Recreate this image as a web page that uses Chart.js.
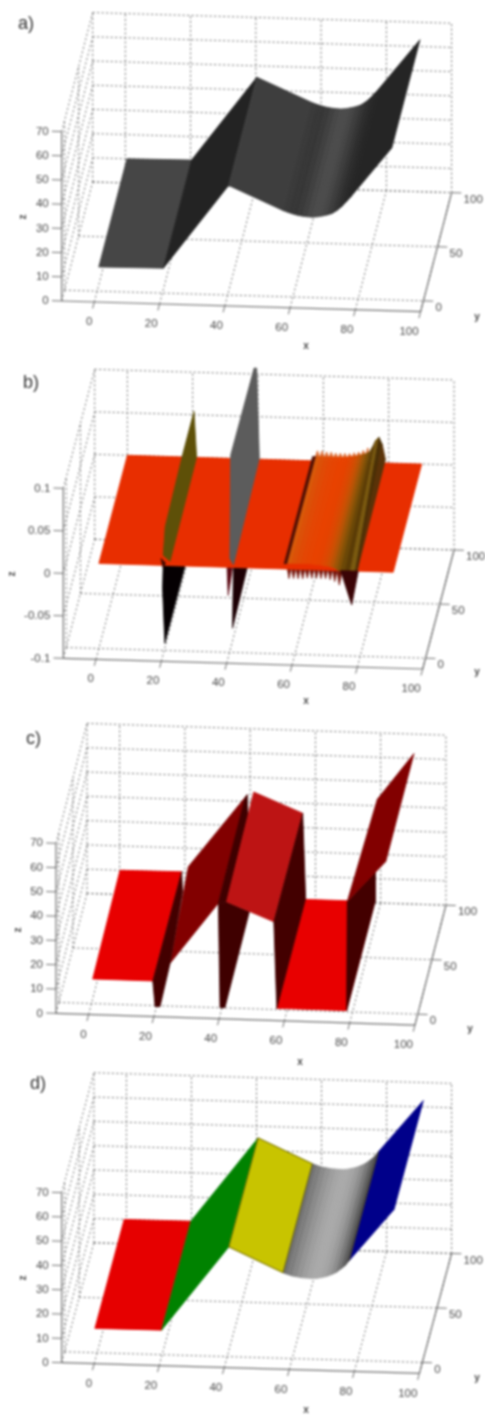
<!DOCTYPE html>
<html>
<head>
<meta charset="utf-8">
<script src="https://cdn.jsdelivr.net/npm/chart.js@4/dist/chart.umd.min.js"></script>
<style>
    html, body { margin: 0; padding: 0; background: #fff; }
    #page { position: relative; width: 485px; height: 1416px; overflow: hidden; }
    canvas { position: absolute; left: 0; filter: blur(0.8px); }
</style>
</head>
<body>
<div id="page">
    <canvas id="panelA" width="485" height="355" style="top:0"></canvas>
    <canvas id="panelB" width="485" height="360" style="top:355px"></canvas>
    <canvas id="panelC" width="485" height="350" style="top:715px"></canvas>
    <canvas id="panelD" width="485" height="351" style="top:1065px"></canvas>
</div>
<script>
// Axis ticks
const xTicks = [0, 20, 40, 60, 80, 100];
const yTicks = [0, 50, 100];
const zTicks = [0, 10, 20, 30, 40, 50, 60, 70];
const zTicksB = [-0.1, -0.05, 0, 0.05, 0.1];

// a) surface profile, x against z, extruded from y=0 to y=100
const profileX = [0.5, 20.3, 40.3, 57, 58.5, 60, 61.5, 63, 64.5, 66, 67.5, 69, 70.5, 72, 73.5, 75, 76.5, 77.7, 90.3];
const profileZ = [10, 10.3, 45.3, 35.6, 34.9, 34.3, 33.8, 33.5, 33.3, 33.2, 33.4, 33.8, 34.3, 35, 36.3, 38, 40.2, 42, 62.8];
const shadesA = ['#464646', '#232323', '#3e3e3e', '#3a3a3a', '#373737', '#363636', '#3a3a3a', '#404040', '#474747', '#4b4b4b', '#4b4b4b', '#464646', '#3e3e3e', '#363636', '#2e2e2e', '#292929', '#262626', '#252525'];

// b) flat plane and the features read off it, vertices are [x, y, z]
const planeB = [[0, 0, 0], [90.1, 0, 0], [90.1, 100, 0], [0, 100, 0]];
const spike1Upper = [[20.4, 100, 0.054], [21.2, 100, 0], [21.8, 0, 0.005], [19.7, 0, 0.012], [20, 3.5, 0.041], [20, 64, 0.048]];
const spike1Lower = [[19.7, 0, 0], [26.4, 0, 0], [20.2, 0, -0.0916], [19.5, 0, -0.027]];
const spike1Notch = [[19, 0, 0.008], [19.7, 0, -0.003], [20.4, 0, 0.003]];
const spike2Upper = [[38.8, 100, 0.107], [39.6, 100, 0.107], [40.4, 100, 0.001], [41.2, 0, 0.003], [40.1, 0, 0.0106], [40, 4, 0.127]];
const spike2Lower = [[41.2, 0, 0], [45.4, 0, 0], [40.9, 0, -0.0715]];
const spike2Shade = [[39.1, 0, 0.014], [39.6, 0, -0.033], [40.9, 0, 0]];
const bandX = [56.7, 57.8, 59, 60.5, 62, 63.5, 65, 66.5, 68, 69, 70, 71, 72, 73, 74, 75, 76, 77, 78, 79];
const bandBackZ = [0.005, 0.005, 0.005, 0.005, 0.005, 0.005, 0.005, 0.005, 0.006, 0.006, 0.007, 0.008, 0.009, 0.01, 0.012, 0.018, 0.026, 0.03, 0.022, 0.004];
const bandFrontZ = [0.006, 0.007, 0.007, 0.007, 0.007, 0.007, 0.007, 0.006, 0.006, 0.005, 0.005, 0.004, 0.003, 0.001, -0.001, -0.008, -0.02, -0.034, -0.02, 0];
const bandShades = ['#501005', '#d85a0a', '#dc5008', '#e04a06', '#e44604', '#e64402', '#e84200', '#e64200', '#e04602', '#d84a02', '#cc5004', '#b85406', '#9c5608', '#825208', '#6a4808', '#5a3c06', '#7a5a10', '#4a3006', '#5a3208'];
const combBackX = [57.5, 58.2, 58.9, 59.6, 60.3, 61, 61.7, 62.4, 63.1, 63.8, 64.5, 65.2, 65.9, 66.6, 67.3, 68, 68.7, 69.4, 70.1, 70.8, 71.5, 72.2, 72.9, 73.6];
const combBackZ = [0.004, 0.012, 0.004, 0.012, 0.004, 0.011, 0.004, 0.011, 0.004, 0.010, 0.004, 0.010, 0.004, 0.010, 0.004, 0.010, 0.005, 0.011, 0.006, 0.012, 0.007, 0.014, 0.008, 0.017];
const combFrontX = [57.5, 58.2, 58.9, 59.6, 60.3, 61, 61.7, 62.4, 63.1, 63.8, 64.5, 65.2, 65.9, 66.6, 67.3, 68, 68.7, 69.4, 70.1, 70.8, 71.5, 72.2, 72.9, 73.6, 74.3];
const combFrontZ = [0.006, -0.011, 0.002, -0.011, 0.002, -0.011, 0.002, -0.011, 0.002, -0.01, 0.002, -0.01, 0.002, -0.01, 0.002, -0.01, 0.002, -0.01, 0.002, -0.011, 0.001, -0.013, 0, -0.017, -0.002];
const bandDrop = [[74, 0, 0], [79.4, 0, 0], [77.4, 0, -0.04]];

// c) separate faces of the surface, vertices are [x, y, z]
const flatLeftC = [[0.37, 0, 10.1], [18.8, 0, 10.1], [19, 100, 10.2], [0.1, 100, 10]];
const wallOneC = [[18.8, 0, 10.1], [19.5, 0, -0.4], [21, 0, -0.4], [24.1, 0, 17.6], [19.3, 100, 2], [19, 100, 10.2]];
const rampOneC = [[24.1, 0, 17.6], [38.9, 0, 43], [39.1, 100, 42.8], [21.05, 100, 12.4]];
const sliverC = [[38.4, 100, 41.3], [39.1, 100, 42.8], [39.4, 100, 33], [41.6, 0, 43.8], [38.9, 0, 43]];
const wallTwoC = [[38.9, 0, 43], [39.4, 0, 0], [40.9, 0, 0.1], [48.4, 0, 40], [41.4, 0, 43.7]];
const middleC = [[41.4, 0, 43.7], [55.9, 0, 36.1], [56.1, 100, 35.9], [41.1, 100, 44]];
const wallThreeC = [[56.1, 100, 35.9], [57, 100, 0.9], [56.8, 0, 0.5], [55.9, 0, 36.1]];
const flatRightC = [[56.8, 0, 0.5], [78.2, 0, 0.5], [78.2, 100, 0.5], [56.8, 100, 0.5]];
const wallFourC = [[78.2, 0, 0.5], [78.4, 0, 45.4], [78.3, 100, 12.8], [78.3, 100, 0.5]];
const rampTwoC = [[78.4, 0, 45.4], [78.97, 100, 42.7], [90.2, 100, 62], [90.2, 0, 62.4]];

// d) same profile as a), split into coloured pieces
const profileXD = [-0.7, 19.8, 40.5, 57.2, 58.5, 60, 61.5, 63, 64.5, 66, 67.5, 69, 70.5, 72, 73.5, 75, 76.3, 77.5, 91.3];
const profileZD = [10, 10.1, 45.2, 35.2, 34.6, 34, 33.7, 33.4, 33.3, 33.2, 33.3, 33.7, 34.2, 35, 36, 37.5, 39, 41, 62.6];
const shadesD = ['#e60000', '#008200', '#c8c400', '#727272', '#7e7e7e', '#8a8a8a', '#959595', '#9e9e9e', '#a5a5a5', '#a9a9a9', '#a9a9a9', '#a5a5a5', '#9c9c9c', '#8e8e8e', '#7a7a7a', '#646464', '#505050', '#00008a'];
const edgesD = [19.8, 40.5, 57.2, 77.5];
const edgeZD = [10.1, 45.2, 35.2, 41];

// a, b, c, d views: where a data unit lands on the canvas
const viewA = { ox: 61.67, oy: 301, ex: [3.263, 0.097], ey: [0.282, -1.082], ez: 2.42 };
const viewB = { ox: 63.33, oy: 218.33, ex: [3.267, 0.097], ey: [0.285, -1.082], ez: 850 };
const viewC = { ox: 56, oy: 298.33, ex: [3.263, 0.107], ey: [0.282, -1.09], ez: 2.429 };
const viewD = { ox: 61.67, oy: 297.67, ex: [3.252, 0.097], ey: [0.293, -1.09], ez: 2.429 };

const textColor = '#4a4a4a';
const axisColor = '#707070';
const gridColor = '#6e6e6e';

function project(view, p) {
    const dx = p[0] + 10, dy = p[1] + 10;
    return {
        x: view.ox + dx * view.ex[0] + dy * view.ey[0],
        y: view.oy + dx * view.ex[1] + dy * view.ey[1] - p[2] * view.ez
    };
}

function polygon(view, verts, color) {
    const data = verts.map(v => project(view, v));
    data.push(data[0]);
    return { data, showLine: true, fill: 'shape', backgroundColor: color, borderColor: color, borderWidth: 0.8, pointRadius: 0, tension: 0 };
}

function segment(view, a, b, color, width, dash) {
    return { data: [project(view, a), project(view, b)], showLine: true, fill: false, borderColor: color, borderWidth: width, borderDash: dash || [], pointRadius: 0, tension: 0 };
}

function strips(view, xs, frontZ, backZ, colors) {
    const out = [];
    for (let i = 0; i < xs.length - 1; i++) {
        out.push(polygon(view, [[xs[i], 0, frontZ[i]], [xs[i + 1], 0, frontZ[i + 1]], [xs[i + 1], 100, backZ[i + 1]], [xs[i], 100, backZ[i]]], colors[i]));
    }
    return out;
}

function frame(view, zt) {
    const out = [];
    const zMin = zt[0], zMax = zt[zt.length - 1];
    const dash = [2, 2.5];
    xTicks.forEach(x => {
        out.push(segment(view, [x, -10, zMin], [x, 100, zMin], gridColor, 1, dash));
        out.push(segment(view, [x, 100, zMin], [x, 100, zMax], gridColor, 1, dash));
    });
    yTicks.forEach(y => {
        out.push(segment(view, [-10, y, zMin], [100, y, zMin], gridColor, 1, dash));
        out.push(segment(view, [-10, y, zMin], [-10, y, zMax], gridColor, 1, dash));
    });
    zt.forEach(z => {
        out.push(segment(view, [-10, 100, z], [100, 100, z], gridColor, 1, dash));
        out.push(segment(view, [-10, -10, z], [-10, 100, z], gridColor, 1, dash));
    });
    // solid axes and their tick marks
    out.push(segment(view, [-10, -10, zMin], [100, -10, zMin], axisColor, 1.2));
    out.push(segment(view, [100, -10, zMin], [100, 100, zMin], axisColor, 1.2));
    out.push(segment(view, [-10, -10, zMin], [-10, -10, zMax], axisColor, 1.2));
    xTicks.forEach(x => out.push(segment(view, [x, -10, zMin], [x, -16, zMin], axisColor, 1)));
    yTicks.forEach(y => out.push(segment(view, [100, y, zMin], [103, y, zMin], axisColor, 1)));
    zt.forEach(z => out.push(segment(view, [-10, -10, z], [-13, -10, z], axisColor, 1)));
    return out;
}

function combPolygon(xs, zs, y, baseZ) {
    const verts = xs.map((x, i) => [x, y, zs[i]]);
    verts.push([xs[xs.length - 1], y, baseZ], [xs[0], y, baseZ]);
    return verts;
}

// Real text: tick labels, axis names and the panel letter
const labelPlugin = {
    id: 'labelPlugin',
    afterDatasetsDraw(chart, args, opts) {
        const { ctx, scales } = chart;
        const view = opts.view, zt = opts.zTicks, zLabels = opts.zLabels;
        const zMin = zt[0];
        const px = p => {
            const s = project(view, p);
            return { x: scales.x.getPixelForValue(s.x), y: scales.y.getPixelForValue(s.y) };
        };
        ctx.save();
        ctx.fillStyle = textColor;
        ctx.font = '11.5px "Liberation Sans"';
        ctx.textBaseline = 'middle';
        ctx.textAlign = 'right';
        xTicks.forEach(x => {
            const t = px([x, -10, zMin]);
            ctx.fillText(String(x), t.x - 2, t.y + 20);
        });
        zt.forEach((z, i) => {
            const t = px([-10, -10, z]);
            ctx.fillText(zLabels[i], t.x - 13, t.y);
        });
        ctx.textAlign = 'left';
        yTicks.forEach(y => {
            const t = px([100, y, zMin]);
            ctx.fillText(String(y), t.x + 12, t.y + 7);
        });
        ctx.font = 'bold 10px "Liberation Sans"';
        ctx.textAlign = 'center';
        ctx.fillText('x', opts.xName[0], opts.xName[1]);
        ctx.fillText('y', opts.yName[0], opts.yName[1]);
        ctx.save();
        ctx.translate(opts.zName[0], opts.zName[1]);
        ctx.rotate(-Math.PI / 2);
        ctx.fillText('z', 0, 0);
        ctx.restore();
        ctx.fillStyle = '#333333';
        ctx.font = '18px "Liberation Sans"';
        ctx.textAlign = 'left';
        ctx.fillText(opts.letter, opts.letterAt[0], opts.letterAt[1]);
        ctx.restore();
    }
};

function drawPanel(canvasId, view, zt, zLabels, faces, text) {
    const canvas = document.getElementById(canvasId);
    const datasets = frame(view, zt).concat(faces);
    // Chart.js paints the first dataset last, so flip to keep paint order
    datasets.reverse();
    return new Chart(canvas, {
        type: 'scatter',
        data: { datasets },
        plugins: [labelPlugin],
        options: {
            responsive: false,
            animation: false,
            layout: { padding: 0 },
            scales: {
                x: { type: 'linear', display: false, min: 0, max: canvas.width },
                y: { type: 'linear', display: false, min: 0, max: canvas.height, reverse: true }
            },
            plugins: {
                legend: { display: false },
                tooltip: { enabled: false },
                labelPlugin: Object.assign({ view, zTicks: zt, zLabels }, text)
            }
        }
    });
}

const zLabelsMain = zTicks.map(String);
const zLabelsB = zTicksB.map(String);

// a)
drawPanel('panelA', viewA, zTicks, zLabelsMain,
    strips(viewA, profileX, profileZ, profileZ, shadesA),
    { letter: 'a)', letterAt: [18, 24], xName: [306, 346], yName: [477, 317], zName: [23, 217] });

// b)
const facesB = [
    polygon(viewB, combPolygon(combFrontX, combFrontZ, 0, 0.008), '#741208'),
    polygon(viewB, spike1Lower, '#050002'),
    polygon(viewB, spike2Lower, '#1c0004'),
    polygon(viewB, spike2Shade, '#5a0812'),
    polygon(viewB, planeB, '#e82e00'),
    polygon(viewB, spike1Notch, '#3c0a02'),
    polygon(viewB, spike1Upper, '#5e5008'),
    polygon(viewB, spike2Upper, '#5c5c5c'),
    polygon(viewB, combPolygon(combBackX, combBackZ, 100, 0.003), '#dc6a30')
].concat(strips(viewB, bandX, bandFrontZ, bandBackZ, bandShades), [polygon(viewB, bandDrop, '#3a0406')]);
drawPanel('panelB', viewB, zTicksB, zLabelsB, facesB,
    { letter: 'b)', letterAt: [23, 28], xName: [306, 346], yName: [477, 317], zName: [12, 219] });

// c)
const facesC = [
    polygon(viewC, wallTwoC, '#3f0000'),
    polygon(viewC, flatLeftC, '#e80000'),
    polygon(viewC, rampOneC, '#820000'),
    polygon(viewC, wallOneC, '#430000'),
    polygon(viewC, sliverC, '#3f0000'),
    polygon(viewC, middleC, '#bd1414'),
    polygon(viewC, flatRightC, '#e80000'),
    polygon(viewC, wallThreeC, '#430000'),
    polygon(viewC, wallFourC, '#430000'),
    polygon(viewC, rampTwoC, '#820000')
];
drawPanel('panelC', viewC, zTicks, zLabelsMain, facesC,
    { letter: 'c)', letterAt: [26, 24], xName: [300, 347], yName: [470, 314], zName: [18, 215] });

// d)
const facesD = strips(viewD, profileXD, profileZD, profileZD, shadesD)
    .concat(edgesD.map((x, i) => segment(viewD, [x, 0, edgeZD[i]], [x, 100, edgeZD[i]], '#5a5200', 0.8)))
    .concat([segment(viewD, [40.5, 100, 45.2], [57.2, 100, 35.2], '#5a5200', 0.8), segment(viewD, [40.5, 0, 45.2], [57.2, 0, 35.2], '#5a5200', 0.8)]);
drawPanel('panelD', viewD, zTicks, zLabelsMain, facesD,
    { letter: 'd)', letterAt: [30, 19], xName: [306, 345], yName: [477, 313], zName: [23, 213] });
</script>
</body>
</html>
